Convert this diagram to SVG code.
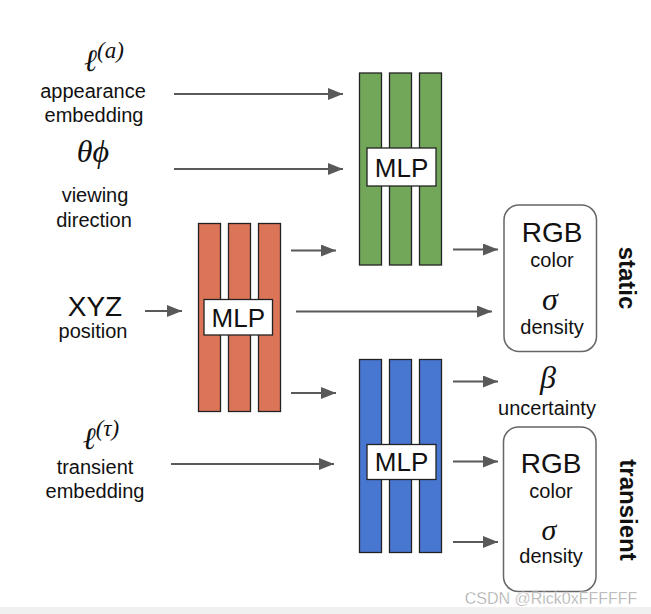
<svg xmlns="http://www.w3.org/2000/svg" width="651" height="614" viewBox="0 0 651 614">
<defs>
<marker id="ah" markerWidth="15" markerHeight="12" refX="15" refY="6" orient="auto" markerUnits="userSpaceOnUse">
<path d="M0,0 L15,6 L0,12 Z" fill="#595959"/>
</marker>
<style>
.lbl{font-family:"Liberation Sans",Arial,sans-serif;font-size:20px;fill:#111;text-anchor:middle}
.big{font-family:"Liberation Sans",Arial,sans-serif;font-size:28px;fill:#111;text-anchor:middle}
.math{font-family:"DejaVu Serif","Liberation Serif",serif;font-style:italic;fill:#111;text-anchor:middle}
.mathl{font-family:"Liberation Serif","DejaVu Serif",serif;font-style:italic;fill:#111;text-anchor:middle}
.mlpt{font-family:"Liberation Sans",Arial,sans-serif;font-size:26px;fill:#111;text-anchor:middle}
.side{font-family:"Liberation Sans",Arial,sans-serif;font-size:24px;font-weight:bold;fill:#111;text-anchor:middle}
.bar{stroke:#222;stroke-width:1.3}
.g{fill:#72a75a}.o{fill:#dc7557}.b{fill:#4877d2}
.box{fill:#fff;stroke:#222;stroke-width:1.3}
.out{fill:#fff;stroke:#666;stroke-width:1.5}
.conn line{stroke:#595959;stroke-width:2;marker-end:url(#ah)}
</style>
</defs>
<rect width="651" height="614" fill="#fff"/>
<rect x="0" y="607" width="651" height="7" fill="#f0f0f0"/>

<g id="in-appearance">
<text class="math" x="104" y="71"><tspan font-size="31">ℓ</tspan><tspan class="mathl" font-size="23" dy="-13" font-style="normal">(<tspan font-style="italic">a</tspan>)</tspan></text>
<text class="lbl" x="93" y="98">appearance</text>
<text class="lbl" x="94" y="122">embedding</text>
</g>
<g id="in-viewing">
<text class="mathl" x="93" y="162" font-size="32">θϕ</text>
<text class="lbl" x="95" y="202">viewing</text>
<text class="lbl" x="94" y="227">direction</text>
</g>
<g id="in-xyz">
<text class="big" x="95" y="316">XYZ</text>
<text class="lbl" x="93" y="338">position</text>
</g>
<g id="in-transient">
<text class="math" x="101" y="449"><tspan font-size="31">ℓ</tspan><tspan class="mathl" font-size="23" dy="-13" font-style="normal">(<tspan font-style="italic">τ</tspan>)</tspan></text>
<text class="lbl" x="95" y="474">transient</text>
<text class="lbl" x="95" y="498">embedding</text>
</g>

<g id="mlp-static">
<rect class="bar g" x="359.5" y="73" width="22" height="192"/>
<rect class="bar g" x="389.5" y="73" width="22" height="192"/>
<rect class="bar g" x="419.5" y="73" width="22" height="192"/>
<rect class="box" x="367" y="148" width="69" height="38"/>
<text class="mlpt" x="401.5" y="176.5">MLP</text>
</g>
<g id="mlp-base">
<rect class="bar o" x="198.5" y="223.5" width="22" height="188"/>
<rect class="bar o" x="228.5" y="223.5" width="22" height="188"/>
<rect class="bar o" x="258.5" y="223.5" width="22" height="188"/>
<rect class="box" x="204" y="299.5" width="68.5" height="35.5"/>
<text class="mlpt" x="238.3" y="326.5">MLP</text>
</g>
<g id="mlp-transient">
<rect class="bar b" x="359.5" y="359.5" width="22" height="193"/>
<rect class="bar b" x="389.5" y="359.5" width="22" height="193"/>
<rect class="bar b" x="419.5" y="359.5" width="22" height="193"/>
<rect class="box" x="367" y="444.5" width="69" height="35"/>
<text class="mlpt" x="401.5" y="471">MLP</text>
</g>

<g id="out-static">
<rect class="out" x="504" y="205" width="92.5" height="146.5" rx="15"/>
<text class="big" x="552" y="242" font-size="28">RGB</text>
<text class="lbl" x="552" y="267">color</text>
<text class="mathl" x="550" y="310" font-size="32">σ</text>
<text class="lbl" x="552" y="334">density</text>
</g>
<g id="label-static">
<text class="side" transform="translate(619,278) rotate(90)">static</text>
</g>
<g id="out-uncertainty">
<text class="mathl" x="548" y="388" font-size="32">β</text>
<text class="lbl" x="547" y="415">uncertainty</text>
</g>
<g id="out-transient">
<rect class="out" x="503.5" y="427" width="92.5" height="164.5" rx="15"/>
<text class="big" x="551" y="473" font-size="28">RGB</text>
<text class="lbl" x="551" y="498">color</text>
<text class="mathl" x="549" y="540" font-size="30">σ</text>
<text class="lbl" x="551" y="563">density</text>
</g>
<g id="label-transient">
<text class="side" transform="translate(620,510) rotate(90)">transient</text>
</g>

<g id="connectors" class="conn">
<line x1="174" y1="94" x2="343" y2="94"/>
<line x1="174" y1="169" x2="343" y2="169"/>
<line x1="145" y1="311" x2="182" y2="311"/>
<line x1="291" y1="250.5" x2="336" y2="250.5"/>
<line x1="296" y1="311.5" x2="492" y2="311.5"/>
<line x1="291" y1="393" x2="336" y2="393"/>
<line x1="453" y1="249.5" x2="498" y2="249.5"/>
<line x1="171" y1="464" x2="334" y2="464"/>
<line x1="453" y1="381.5" x2="498" y2="381.5"/>
<line x1="453" y1="461.5" x2="498" y2="461.5"/>
<line x1="453" y1="542" x2="498" y2="542"/>
</g>

<g id="watermark">
<text x="551" y="604" font-family="'Liberation Sans Narrow','Liberation Sans',Arial,sans-serif" font-size="16" fill="#a0a0a0" stroke="#fff" stroke-width="0.4" text-anchor="middle">CSDN @Rick0xFFFFFF</text>
</g>
</svg>
